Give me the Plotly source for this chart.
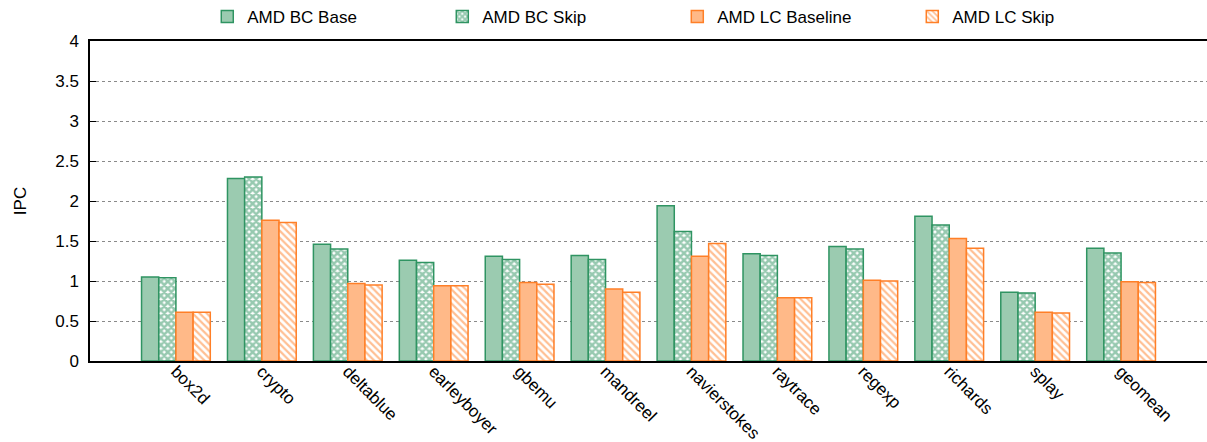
import plotly.graph_objects as go

categories = ["box2d", "crypto", "deltablue", "earleyboyer", "gbemu", "mandreel",
              "navierstokes", "raytrace", "regexp", "richards", "splay", "geomean"]
bc_base = [1.05, 2.28, 1.46, 1.26, 1.31, 1.32, 1.94, 1.34, 1.43, 1.81, 0.86, 1.41]
bc_skip = [1.04, 2.30, 1.40, 1.23, 1.27, 1.27, 1.62, 1.32, 1.40, 1.70, 0.85, 1.35]
lc_base = [0.61, 1.76, 0.97, 0.94, 0.98, 0.90, 1.31, 0.79, 1.01, 1.53, 0.61, 0.99]
lc_skip = [0.61, 1.73, 0.95, 0.94, 0.96, 0.86, 1.47, 0.79, 1.00, 1.41, 0.60, 0.98]

GREEN_FILL = "#9bcbb0"
GREEN_LINE = "#2f9462"
ORANGE_FILL = "#ffb988"
ORANGE_LINE = "#ff7f27"

FONT = "Liberation Sans, Arial, sans-serif"
FS = 17

x = list(range(len(categories)))

fig = go.Figure()
fig.add_trace(go.Bar(
    x=x, y=bc_base, name="AMD BC Base",
    marker=dict(color=GREEN_FILL, line=dict(color=GREEN_LINE, width=1.5)),
))
fig.add_trace(go.Bar(
    x=x, y=bc_skip, name="AMD BC Skip",
    marker=dict(color="white", line=dict(color=GREEN_LINE, width=1.5),
                pattern=dict(shape="x", fgcolor=GREEN_LINE, bgcolor="white",
                             size=5, solidity=0.75, fillmode="overlay")),
))
fig.add_trace(go.Bar(
    x=x, y=lc_base, name="AMD LC Baseline",
    marker=dict(color=ORANGE_FILL, line=dict(color=ORANGE_LINE, width=1.5)),
))
fig.add_trace(go.Bar(
    x=x, y=lc_skip, name="AMD LC Skip",
    marker=dict(color="white", line=dict(color=ORANGE_LINE, width=1.5),
                pattern=dict(shape="\\", fgcolor=ORANGE_LINE, bgcolor="white",
                             size=5, solidity=0.45, fillmode="overlay")),
))

fig.update_layout(
    width=1207, height=442,
    margin=dict(l=90, r=0, t=41, b=81, autoexpand=False),
    paper_bgcolor="white", plot_bgcolor="white",
    font=dict(family=FONT, size=FS, color="#000000"),
    barmode="group", bargap=0.2, bargroupgap=0.0,
    legend=dict(orientation="h", x=0.105, xanchor="left", y=1.075, yanchor="middle",
                entrywidth=190, entrywidthmode="pixels", traceorder="normal",
                font=dict(family=FONT, size=FS), bgcolor="rgba(0,0,0,0)"),
    xaxis=dict(
        range=[-1, 12], tickmode="array", tickvals=x, ticktext=categories,
        tickangle=45, showgrid=False, showline=True, linecolor="#000000",
        linewidth=1.5, mirror=True, ticks="", zeroline=False,
        ticklabelstandoff=-8,
        tickfont=dict(family=FONT, size=FS),
    ),
    yaxis=dict(
        range=[0, 4], dtick=0.5, showgrid=True, gridcolor="#8a8a8a",
        griddash="dot", gridwidth=1, showline=True, linecolor="#000000",
        linewidth=1.5, ticks="inside", ticklen=6, tickcolor="#000000",
        zeroline=False, ticklabelstandoff=6,
        title=dict(text="IPC", standoff=24, font=dict(family=FONT, size=FS)),
        tickfont=dict(family=FONT, size=FS),
    ),
)

fig.write_html("out.html")
